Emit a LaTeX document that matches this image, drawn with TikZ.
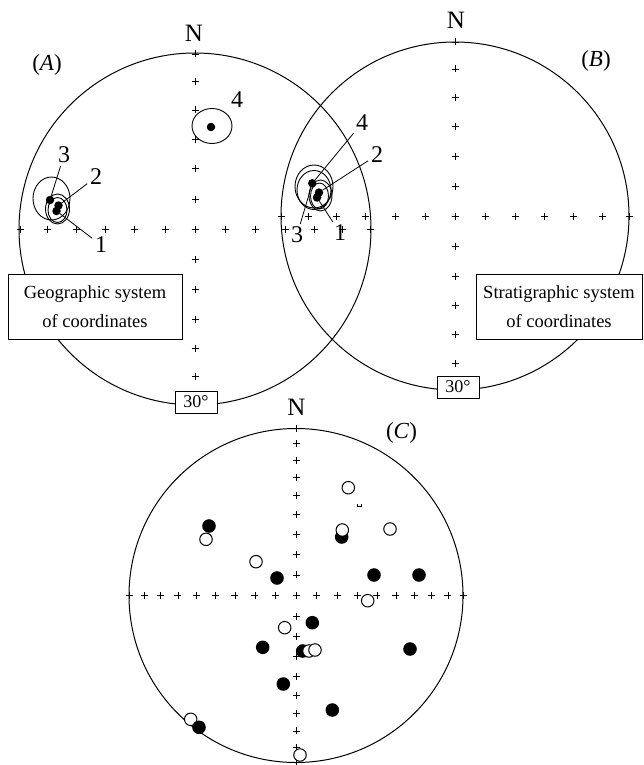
\documentclass[tikz,border=0pt]{standalone}
\usepackage{fontspec}
\setmainfont{Liberation Serif}
\tikzset{
  plusmark/.pic={\draw[line width=0.55pt] (-3.5,0) -- (3.5,0) (0,-3.5) -- (0,3.5);},
  net/.style={line width=1pt},
  ell/.style={line width=0.9pt},
  leader/.style={line width=0.8pt, shorten >=2pt},
  bdot/.style={circle, fill=black, inner sep=0pt, minimum size=8.5pt},
  cfill/.style={circle, draw=black, fill=black, line width=1pt, inner sep=0pt, minimum size=12.5pt},
  copen/.style={circle, draw=black, fill=white, line width=1pt, inner sep=0pt, minimum size=12.5pt},
  numlab/.style={font=\fontsize{24}{24}\selectfont, inner sep=1pt},
  nlab/.style={font=\fontsize{25}{25}\selectfont, inner sep=0pt},
  plab/.style={font=\fontsize{23}{23}\selectfont, inner sep=0pt},
  degbox/.style={draw, fill=white, line width=0.9pt, minimum width=42pt, minimum height=22pt, inner sep=0pt, font=\fontsize{18}{18}\selectfont},
  sysbox/.style={draw, fill=white, line width=0.9pt, minimum height=65pt, inner sep=0pt, align=center, font=\fontsize{18.5}{29}\selectfont}
}
\begin{document}
\begin{tikzpicture}[x=1pt,y=-1pt]
\useasboundingbox (0,0) rectangle (643,765);
% ---------- nets ----------
\draw[net] (195,229) circle[radius=176pt];
\draw[net] (455,216) circle[radius=174pt];
\draw[net] (296,595.5) circle[radius=167pt];
% crosses A
\foreach \d in {-175,-147.5,-119,-90,-60.5,-30,0,30,60.5,90,119,147.5,175} {
  \pic at ({195+\d},229) {plusmark};
  \pic at (195,{229+\d}) {plusmark};
}
% crosses B
\foreach \d in {-174,-147,-118.5,-89.5,-60,-30,0,30,60,89.5,118.5,147,174} {
  \pic at ({455+\d},216) {plusmark};
  \pic at (455,{216+\d}) {plusmark};
}
% crosses C (equal-area, 10 degree steps)
\foreach \k in {-9,...,9} {
  \pgfmathsetmacro{\r}{167*sqrt(2)*sin(5*abs(\k))*(\k<0 ? -1 : 1)}
  \pic at ({296+\r},595.5) {plusmark};
  \pic at (296,{595.5+\r}) {plusmark};
}
% ---------- panel A ----------
\draw[ell] (51.5,198.5) ellipse[x radius=18.5pt, y radius=21.5pt];
\draw[ell] (57.5,209) ellipse[x radius=12pt, y radius=15pt];
\draw[ell] (57.5,210) ellipse[x radius=9.5pt, y radius=12.5pt];
\draw[ell] (212,126) ellipse[x radius=20pt, y radius=17.5pt];
\node[bdot] (a3) at (50,200) {};
\node[bdot] (a2) at (58.5,205.5) {};
\node[bdot] (a1) at (56.5,211) {};
\node[bdot] (a4) at (211,127) {};
\node[numlab] (la3) at (64,155) {3};
\node[numlab] (la2) at (96,177) {2};
\node[numlab] (la1) at (101,245) {1};
\node[numlab] (la4) at (237,100) {4};
\draw[leader] (a3) -- (la3);
\draw[leader] (a2) -- (la2);
\draw[leader] (a1) -- (la1);
\node[nlab] (nA) at (194,33.5) {N};
\node[plab] (pA) at (47,65) {(\textit{A})};
\node[sysbox, minimum width=174pt] (geo) at (95,306.5) {Geographic system\\of coordinates};
\node[degbox] (degA) at (196,402) {30°};
% ---------- panel B ----------
\draw[ell] (314,186.5) ellipse[x radius=19pt, y radius=21.5pt];
\draw[ell] (314,190) ellipse[x radius=17pt, y radius=19.5pt];
\draw[ell] (320.5,195.5) ellipse[x radius=11.5pt, y radius=15.5pt];
\draw[ell] (319.5,196) ellipse[x radius=9pt, y radius=13pt];
\node[bdot] (b4) at (312.3,183.3) {};
\node[bdot] (b2) at (319,192.5) {};
\node[bdot] (b1) at (317,197.5) {};
\node[numlab] (lb4) at (362,123) {4};
\node[numlab] (lb2) at (377,155) {2};
\node[numlab] (lb3) at (297,235) {3};
\node[numlab] (lb1) at (340,233) {1};
\draw[leader] (b4) -- (lb4);
\draw[leader] (b2) -- (lb2);
\draw[leader] (b4) -- (lb3);
\draw[leader] (b1) -- (lb1);
\node[nlab] (nB) at (456,20) {N};
\node[plab] (pB) at (596,61) {(\textit{B})};
\node[sysbox, minimum width=166pt] (strat) at (559,306.5) {Stratigraphic system\\of coordinates};
\node[degbox] (degB) at (458,387) {30°};
% ---------- panel C ----------
\node[nlab] (nC) at (296.5,407.5) {N};
\node[plab] (pC) at (401.5,433) {(\textit{C})};
\draw[line width=0.6pt] (357.5,503.5) -- (357.5,506.5) -- (361,506.5) -- (361,503.5);
\foreach \x/\y [count=\k] in {209/526, 341.7/537, 277/578, 374/575, 419/575, 312.3/622.7, 262.7/647.3, 302.7/651, 283.3/684, 332.3/710, 410/649}
  \node[cfill] (cf\k) at (\x,\y) {};
\foreach \x/\y [count=\k] in {348.3/487.7, 206/539.3, 342.3/530, 390/529, 256/561.7, 367.7/600.7, 284.7/627.7, 309/651, 315/650, 190.7/719.3, 300/755}
  \node[copen] (co\k) at (\x,\y) {};
\node[cfill] (cf12) at (199,727.3) {};
\end{tikzpicture}
\end{document}
